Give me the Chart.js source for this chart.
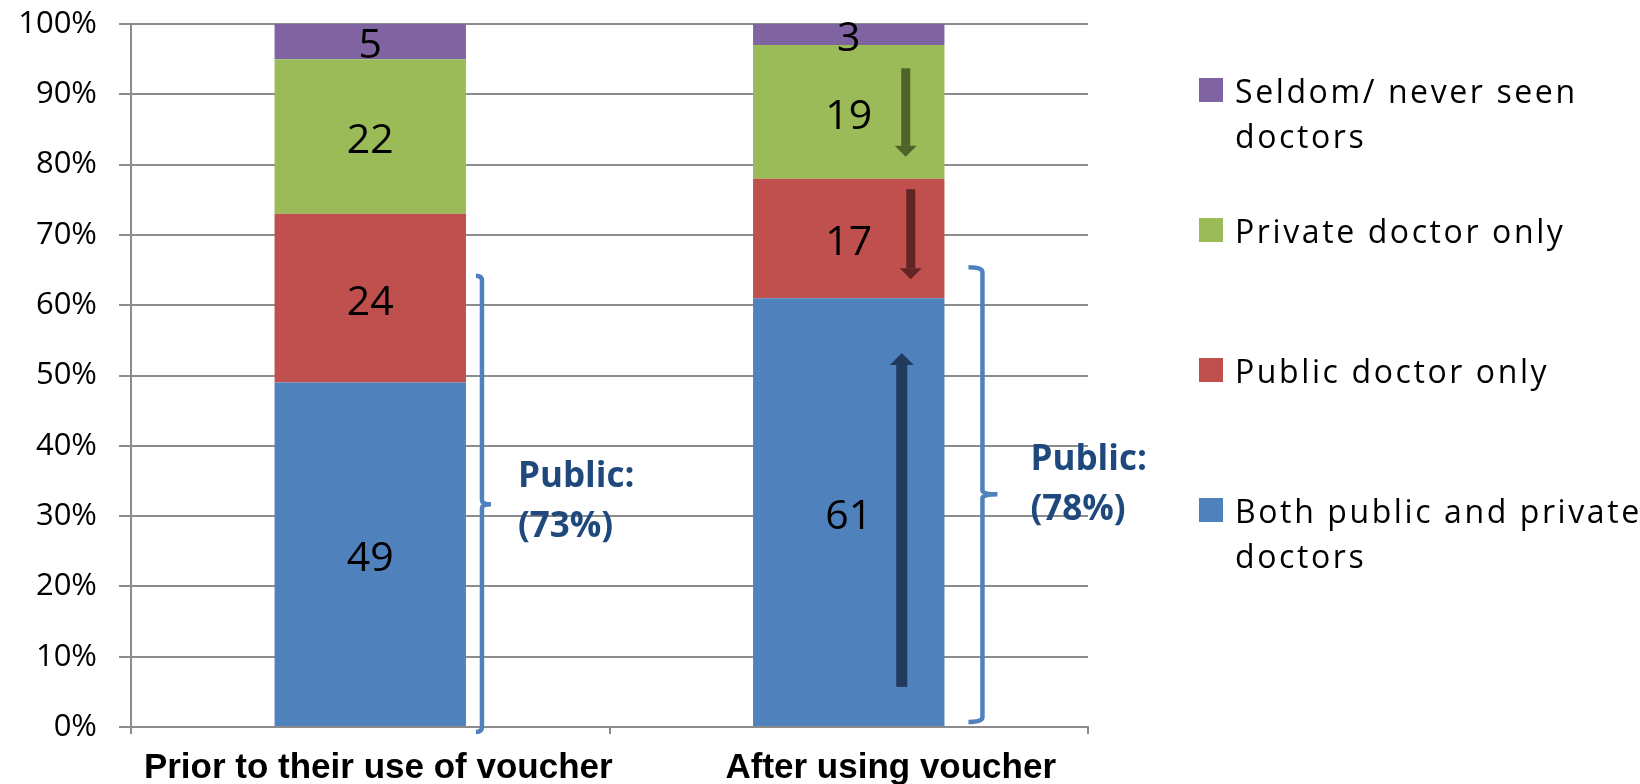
<!DOCTYPE html>
<html>
<head>
<meta charset="utf-8">
<script src="https://cdn.jsdelivr.net/npm/chart.js@4.4.1/dist/chart.umd.min.js"></script>
<style>
  body { margin: 0; background: #fff; }
  #wrap { position: relative; width: 1640px; height: 784px; }
  .item { position: absolute; left: 1199px; font: 32px "Open Sans", sans-serif; letter-spacing: 2.6px; line-height: 45px; color: #000; }
  .swatch { position: absolute; left: 0; top: 10px; width: 24px; height: 24px; }
  .item span { position: absolute; left: 36px; top: 0; white-space: pre; }
</style>
</head>
<body>
<div id="wrap">
  <canvas id="voucherChart"></canvas>
  <div id="legend"></div>
</div>
<script>
const categories = ["Prior to their use of voucher", "After using voucher"];
const bothDoctors = [49, 61];
const publicOnly = [24, 17];
const privateOnly = [22, 19];
const seldomNever = [5, 3];
const yStep = 10;
const yMax = 100;

// annotations (values in %)
const arrows = [
  { bar: 1, from: 93.7, to: 81.1, dx: 57, color: "#4F6228", shaft: 9, head: 22, headLen: 11 },
  { bar: 1, from: 76.5, to: 63.7, dx: 62, color: "#632523", shaft: 9, head: 22, headLen: 11 },
  { bar: 1, from: 5.7, to: 53.2, dx: 53, color: "#223B5C", shaft: 11, head: 24, headLen: 12 }
];
const brackets = [
  { bar: 0, top: 64.2, mid: 31.7, bottom: -0.7, gap: 16, hook: 6, tip: 9, textGap: 36, textBase: 34.1 },
  { bar: 1, top: 65.4, mid: 33.1, bottom: 0.7, gap: 38, hook: 14, tip: 15, textGap: 48, textBase: 36.6 }
];
const xLabelShift = [8, 42];
const legendTops = [67.5, 207.5, 347.5, 487.5];

const gridColor = "#8c8c8c";

const segmentLabels = {
  id: "segmentLabels",
  afterDatasetsDraw(chart) {
    const ctx = chart.ctx;
    const y = chart.scales.y;
    ctx.save();

    // arrows
    arrows.forEach(a => {
      const el = chart.getDatasetMeta(0).data[a.bar];
      const x = el.x + a.dx;
      const y1 = y.getPixelForValue(a.from);
      const y2 = y.getPixelForValue(a.to);
      const dir = y2 > y1 ? 1 : -1;
      const yh = y2 - dir * a.headLen;
      ctx.fillStyle = a.color;
      ctx.fillRect(x - a.shaft / 2, Math.min(y1, yh), a.shaft, Math.abs(yh - y1));
      ctx.beginPath();
      ctx.moveTo(x - a.head / 2, yh);
      ctx.lineTo(x + a.head / 2, yh);
      ctx.lineTo(x, y2);
      ctx.closePath();
      ctx.fill();
    });

    // values in the middle of each segment
    ctx.fillStyle = "#000";
    ctx.font = '41px "Open Sans"';
    ctx.textAlign = "center";
    ctx.textBaseline = "middle";
    chart.data.datasets.forEach((ds, i) => {
      chart.getDatasetMeta(i).data.forEach((el, j) => {
        ctx.fillText(ds.data[j], el.x, (el.y + el.base) / 2 + 5);
      });
    });

    // brackets for the "public" share
    brackets.forEach(b => {
      const el = chart.getDatasetMeta(0).data[b.bar];
      const x = el.x + el.width / 2 + b.gap;
      const yt = y.getPixelForValue(b.top);
      const ym = y.getPixelForValue(b.mid);
      const yb = y.getPixelForValue(b.bottom);
      ctx.strokeStyle = "#4F81BD";
      ctx.lineWidth = 4.5;
      ctx.lineJoin = "round";
      ctx.beginPath();
      ctx.moveTo(x - b.hook, yt);
      ctx.quadraticCurveTo(x, yt, x, yt + 5);
      ctx.lineTo(x, ym - 4);
      ctx.quadraticCurveTo(x, ym, x + b.tip, ym);
      ctx.moveTo(x + b.tip, ym);
      ctx.quadraticCurveTo(x, ym, x, ym + 4);
      ctx.lineTo(x, yb - 5);
      ctx.quadraticCurveTo(x, yb, x - b.hook, yb);
      ctx.stroke();

      const pct = bothDoctors[b.bar] + publicOnly[b.bar];
      const base = y.getPixelForValue(b.textBase);
      ctx.fillStyle = "#1F497D";
      ctx.font = 'bold 35px "Open Sans"';
      ctx.textAlign = "left";
      ctx.textBaseline = "alphabetic";
      ctx.fillText("Public:", x + b.textGap, base);
      ctx.fillText("(" + pct + "%)", x + b.textGap, base + 50);
    });

    // category labels
    const xs = chart.scales.x;
    ctx.fillStyle = "#000";
    ctx.font = 'bold 35px "Liberation Sans"';
    ctx.textAlign = "center";
    ctx.textBaseline = "alphabetic";
    categories.forEach((c, i) => {
      ctx.fillText(c, xs.getPixelForValue(i) + xLabelShift[i], xs.top + 51);
    });
    ctx.restore();
  }
};

const ctx = document.getElementById("voucherChart").getContext("2d");
const chart = new Chart(ctx, {
  type: "bar",
  data: {
    labels: categories,
    datasets: [
      { label: "Both public and private\ndoctors", data: bothDoctors, backgroundColor: "#4F81BD" },
      { label: "Public doctor only", data: publicOnly, backgroundColor: "#C0504D" },
      { label: "Private doctor only", data: privateOnly, backgroundColor: "#9BBB59" },
      { label: "Seldom/ never seen\ndoctors", data: seldomNever, backgroundColor: "#8064A2" }
    ]
  },
  options: {
    responsive: true,
    maintainAspectRatio: false,
    animation: false,
    layout: { padding: { left: 0, top: 24, right: 552, bottom: 0 } },
    plugins: { legend: { display: false }, tooltip: { enabled: false } },
    datasets: { bar: { categoryPercentage: 0.4, barPercentage: 1 } },
    scales: {
      x: {
        stacked: true,
        grid: { display: true, drawOnChartArea: false, offset: true, color: gridColor, lineWidth: 2, tickLength: 7 },
        border: { color: gridColor, width: 2 },
        ticks: { display: false },
        afterFit(scale) { scale.height = 57; }
      },
      y: {
        stacked: true,
        min: 0,
        max: yMax,
        grid: { color: gridColor, lineWidth: 2, tickLength: 12 },
        border: { color: gridColor, width: 2 },
        ticks: {
          stepSize: yStep,
          padding: 22,
          color: "#000",
          font: { family: "Open Sans", size: 31 },
          callback: v => v + "%"
        },
        afterFit(scale) {
          scale.width = 131;
          scale.paddingTop = 0;
          scale.paddingBottom = 0;
        }
      }
    }
  },
  plugins: [segmentLabels]
});

// legend, top entry first like the stack
const legend = document.getElementById("legend");
chart.data.datasets.slice().reverse().forEach((ds, i) => {
  const item = document.createElement("div");
  item.className = "item";
  item.style.top = legendTops[i] + "px";
  const sw = document.createElement("div");
  sw.className = "swatch";
  sw.style.background = ds.backgroundColor;
  const txt = document.createElement("span");
  txt.textContent = ds.label;
  item.appendChild(sw);
  item.appendChild(txt);
  legend.appendChild(item);
});
</script>
</body>
</html>
